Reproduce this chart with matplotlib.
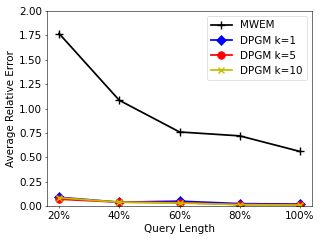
import matplotlib
matplotlib.use("Agg")
import matplotlib.pyplot as plt
import numpy as np

labels = ["20%", "40%", "60%", "80%", "100%"]
mwem = [1.77, 1.085, 0.76, 0.72, 0.56]
dpgm_k1 = [0.09, 0.04, 0.05, 0.025, 0.02]
dpgm_k5 = [0.07, 0.04, 0.035, 0.015, 0.015]
dpgm_k10 = [0.085, 0.04, 0.03, 0.015, 0.01]

x = np.arange(len(labels))

fig, ax = plt.subplots(figsize=(6.44, 4.82), dpi=50)
plt.subplots_adjust(left=0.146, right=0.969, top=0.954, bottom=0.145)

ax.plot(x, mwem, color="black", marker="+", markersize=12, markeredgewidth=2, linewidth=2.5, label="MWEM")
ax.plot(x, dpgm_k1, color="blue", marker="D", markersize=10, linewidth=2.5, label="DPGM k=1")
ax.plot(x, dpgm_k5, color="red", marker="o", markersize=11, linewidth=2.5, label="DPGM k=5")
ax.plot(x, dpgm_k10, color="y", marker="x", markersize=10, markeredgewidth=2, linewidth=2.5, label="DPGM k=10")

ax.set_xticks(x)
ax.set_xticklabels(labels)
ax.set_ylim(0, 2)
ax.tick_params(labelsize=15)
ax.set_xlabel("Query Length", fontsize=15)
ax.set_ylabel("Average Relative Error", fontsize=15)
ax.legend(loc="upper right", fontsize=15)

fig.savefig("out.png", dpi=50)
